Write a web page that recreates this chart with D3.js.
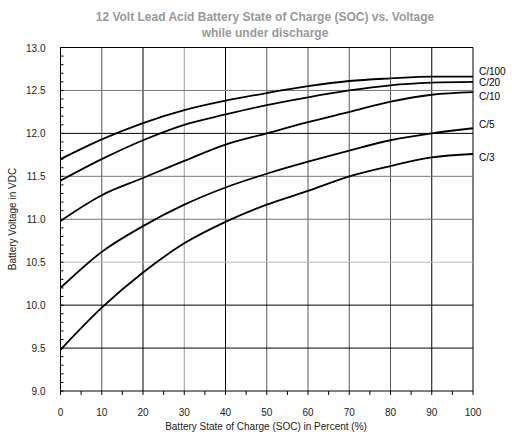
<!DOCTYPE html><html><head><meta charset="utf-8"><script src="https://cdn.jsdelivr.net/npm/d3@7"></script>
<style>body{margin:0;background:#fff}text{font-family:"Liberation Sans",Arial,sans-serif}</style></head><body><svg width="512" height="437"></svg>
<script>
const soc=[0,10,20,30,40,50,60,70,80,90,100];
const c100=[11.7,11.93,12.12,12.27,12.38,12.47,12.55,12.61,12.64,12.66,12.66];
const c20=[11.45,11.7,11.92,12.1,12.22,12.33,12.42,12.5,12.56,12.59,12.6];
const c10=[10.98,11.28,11.48,11.68,11.87,12.0,12.13,12.25,12.37,12.45,12.48];
const c5=[10.2,10.62,10.92,11.17,11.37,11.53,11.67,11.8,11.92,12.0,12.06];
const c3=[9.48,9.97,10.38,10.72,10.97,11.17,11.33,11.5,11.62,11.72,11.76];
const series=[["C/100",c100],["C/20",c20],["C/10",c10],["C/5",c5],["C/3",c3]];
const labelDy={"C/100":-6,"C/20":0,"C/10":4,"C/5":-4,"C/3":3};
const svg=d3.select("svg");
const x=d3.scaleLinear().domain([0,100]).range([60.5,473]);
const y=d3.scaleLinear().domain([9,13]).range([391,47.5]);
const darkX=[0,20,40,90,100], darkY=[9,10,9.5,12,13];
d3.range(0,101,10).forEach(v=>svg.append("line").attr("x1",x(v)).attr("x2",x(v)).attr("y1",y(9)).attr("y2",y(13))
 .attr("stroke",darkX.includes(v)?"#000":(v==30?"#999":"#555")).attr("stroke-width",1));
d3.range(9,13.01,0.5).forEach(v=>svg.append("line").attr("x1",x(0)).attr("x2",x(100)).attr("y1",y(v)).attr("y2",y(v))
 .attr("stroke",darkY.some(d=>Math.abs(d-v)<1e-6)?"#000":(Math.abs(v-10.5)<1e-6?"#bbb":"#777")).attr("stroke-width",1));
d3.range(9,13.001,0.1).forEach(v=>svg.append("line").attr("x1",x(0)).attr("x2",x(0)+3).attr("y1",y(v)).attr("y2",y(v)).attr("stroke","#000"));
d3.range(0,101,5).forEach(v=>svg.append("line").attr("x1",x(v)).attr("x2",x(v)).attr("y1",y(9)).attr("y2",y(9)+4).attr("stroke","#000"));
d3.range(0,101,10).forEach(v=>svg.append("text").attr("x",x(v)).attr("y",y(9)+25).attr("text-anchor","middle").attr("font-size",10).attr("fill","#222").text(v));
d3.range(9,13.01,0.5).forEach(v=>svg.append("text").attr("x",x(0)-15).attr("y",y(v)+4).attr("text-anchor","end").attr("font-size",10).attr("fill","#222").text(v.toFixed(1)));
const line=d3.line().x((d,i)=>x(soc[i])).y(d=>y(d)).curve(d3.curveMonotoneX);
series.forEach(([n,v])=>{
 svg.append("path").attr("d",line(v)).attr("fill","none").attr("stroke","#000").attr("stroke-width",1.8);
 svg.append("text").attr("x",x(100)+6).attr("y",y(v[10])+4+labelDy[n]).attr("font-size",10).attr("fill","#000").text(n);
});
svg.append("text").attr("x",265).attr("y",21).attr("text-anchor","middle").attr("font-size",12).attr("font-weight","bold").attr("fill","#999").text("12 Volt Lead Acid Battery State of Charge (SOC) vs. Voltage");
svg.append("text").attr("x",265).attr("y",37).attr("text-anchor","middle").attr("font-size",12).attr("font-weight","bold").attr("fill","#999").text("while under discharge");
svg.append("text").attr("x",266).attr("y",430).attr("text-anchor","middle").attr("font-size",10).attr("fill","#222").text("Battery State of Charge (SOC) in Percent (%)");
svg.append("text").attr("transform","translate(16,219) rotate(-90)").attr("text-anchor","middle").attr("font-size",10).attr("fill","#222").text("Battery Voltage in VDC");
</script></body></html>
